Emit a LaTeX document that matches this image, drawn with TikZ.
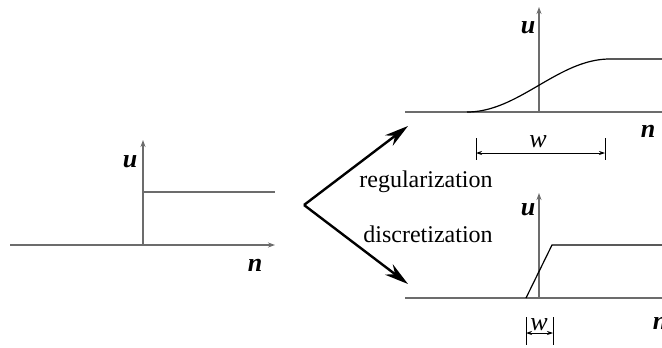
\documentclass[tikz,border=0pt]{standalone}
\usepackage{fontspec}
\setmainfont{Liberation Serif}
\usetikzlibrary{arrows.meta}
\tikzset{
    axis/.style={gray!85!black, line width=1.4pt},
    axisarrow/.style={-{Stealth[length=7pt,width=5pt]}},
    curve/.style={black, line width=1.2pt},
    bigarrow/.style={black, line width=2.4pt, -{Stealth[length=24pt,width=13pt]}},
    dim/.style={black, line width=0.8pt},
    dimarrow/.style={{Stealth[length=6pt,width=4pt]}-{Stealth[length=6pt,width=4pt]}},
    var/.style={font=\fontsize{26}{28}\selectfont\itshape, inner sep=0pt, anchor=base},
    boldvar/.style={var, font=\fontsize{26}{28}\selectfont\bfseries\itshape},
    word/.style={font=\fontsize{24}{26}\selectfont, inner sep=0pt, anchor=base}
}
\begin{document}
\begin{tikzpicture}[x=1pt, y=-1pt]
    \useasboundingbox (0,0) rectangle (662,348);
    % step input
    \draw[axis, axisarrow] (10,245) -- (275,245);
    \draw[axis, axisarrow] (143,245) -- (143,140);
    \draw[axis] (143,192) -- (275,192);
    \node[boldvar] (uin) at (130,167) {u};
    \node[boldvar] (nin) at (255,271) {n};
    % the two ways out
    \coordinate (split) at (304,205);
    \coordinate (regtip) at (408,126);
    \coordinate (distip) at (408,284);
    \draw[bigarrow] (split) -- (regtip);
    \draw[bigarrow] (split) -- (distip);
    \node[word] (reg) at (426,187) {regularization};
    \node[word] (dis) at (428,242) {discretization};
    % regularized profile
    \draw[axis] (405,112) -- (662,112);
    \draw[axis, axisarrow] (539,112) -- (539,7);
    \draw[curve] plot[domain=0:143, samples=40] ({467+\x},{112-26.5*(1-cos(1.2587*\x))})
        -- (662,59);
    \node[boldvar] (ureg) at (528,33) {u};
    \node[boldvar] (nreg) at (648,137) {n};
    \draw[dim] (476,138) -- (476,160) (605,138) -- (605,160);
    \draw[dim, dimarrow] (476,153) -- (605,153);
    \node[var] (wreg) at (538,147) {w};
    % discretized profile
    \draw[axis] (405,298) -- (662,298);
    \draw[axis, axisarrow] (539,298) -- (539,193);
    \draw[curve] (526,298) -- (552,245) -- (662,245);
    \node[boldvar] (udis) at (528,215) {u};
    \node[boldvar] (ndis) at (660,329) {n};
    \draw[dim] (526,317) -- (526,345) (553,317) -- (553,345);
    \draw[dim, dimarrow] (526,333) -- (553,333);
    \node[var] (wdis) at (539,330) {w};
\end{tikzpicture}
\end{document}
